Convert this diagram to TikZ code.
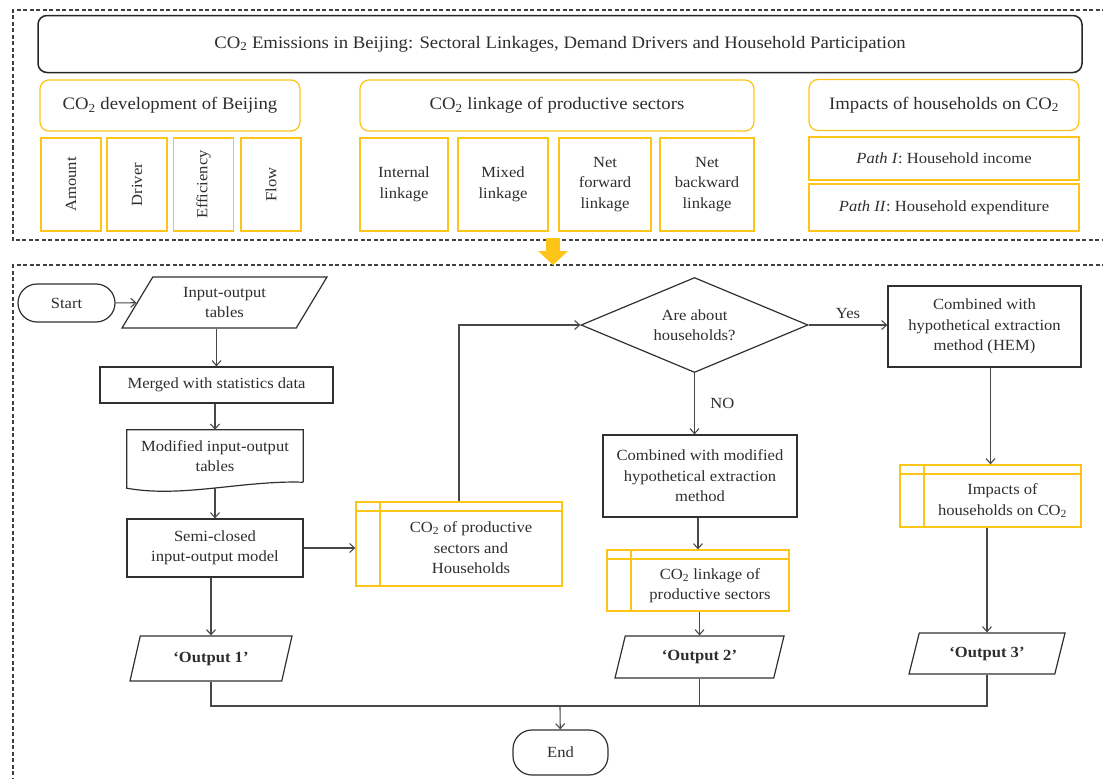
\documentclass[tikz,border=0pt]{standalone}
\usepackage{fontspec}
\setmainfont{Liberation Serif}[FakeStretch=1.07]
\usetikzlibrary{shapes.geometric,arrows.meta}

\definecolor{hlyellow}{RGB}{255,196,24}
\definecolor{linegray}{RGB}{72,72,72}
\definecolor{boxgray}{RGB}{48,48,48}
\newcommand{\COtwo}{CO\textsubscript{2}}
\newcommand{\storelines}[1]{\hspace*{24pt}\begin{tabular}{@{}c@{}}\noalign{\vskip 10pt}#1\end{tabular}}

\begin{document}
\begin{tikzpicture}[x=1pt,y=-1pt,font=\fontsize{15.5}{20.5}\selectfont,text=black!82,
  >={Straight Barb[length=5pt,width=9pt]}]
% Estilos
\tikzset{
  panel/.style={draw=black!75, line width=1.3pt, dash pattern=on 4pt off 2.5pt},
  titlebox/.style={rectangle, draw=black!85, line width=1.5pt, rounded corners=9pt, minimum width=1044pt, minimum height=57pt, font=\fontsize{17.5}{20}\selectfont},
  groupbox/.style={rectangle, draw=hlyellow, line width=1.3pt, rounded corners=9pt, minimum height=51pt, font=\fontsize{17.5}{20}\selectfont},
  itembox/.style={rectangle, draw=hlyellow, line width=1.3pt, align=center},
  process/.style={rectangle, draw=boxgray, line width=1.2pt, align=center},
  terminal/.style={rectangle, draw=boxgray, line width=1.2pt, rounded corners=19pt},
  ioshape/.style={trapezium, draw=boxgray, line width=1.2pt, trapezium left angle=45, trapezium right angle=135, trapezium stretches body, align=center, inner sep=0pt},
  outshape/.style={trapezium, draw=boxgray, line width=1.2pt, trapezium left angle=53, trapezium right angle=127, trapezium stretches body, inner sep=0pt, font=\fontsize{15.5}{20}\selectfont\bfseries},
  decision/.style={diamond, draw=boxgray, line width=1.2pt, aspect=2.4, inner sep=0pt, align=center},
  docbox/.style={rectangle, align=center, minimum width=176pt, minimum height=52pt},
  storebox/.style={rectangle, draw=hlyellow, line width=1.3pt,
    path picture={
      \draw[hlyellow, line width=1.1pt] ([xshift=24pt]path picture bounding box.north west) -- ([xshift=24pt]path picture bounding box.south west);
      \draw[hlyellow, line width=1.1pt] ([yshift=-9pt]path picture bounding box.north west) -- ([yshift=-9pt]path picture bounding box.north east);}},
  link/.style={draw=linegray, line width=1.1pt}
}

\useasboundingbox (0,0) rectangle (1103,779);

% Molduras tracejadas
\draw[panel] (1106,10) -- (13,10) -- (13,240) -- (1106,240);
\draw[panel] (1106,265) -- (13,265) -- (13,785);
\fill[hlyellow] (546,238) -- (560,238) -- (560,251) -- (568,251) -- (553,265) -- (538,251) -- (546,251) -- cycle;

% Titulo
\node[titlebox] (title) at (560,44) {\COtwo{} Emissions in Beijing: Sectoral Linkages, Demand Drivers and Household Participation};

% Grupos
\node[groupbox, minimum width=260pt] (devgroup) at (170,105.5) {\COtwo{} development of Beijing};
\node[groupbox, minimum width=394pt] (linkgroup) at (557,105.5) {\COtwo{} linkage of productive sectors};
\node[groupbox, minimum width=270pt] (hhgroup) at (944,105) {Impacts of households on \COtwo};

% Itens do primeiro grupo
\node[itembox, rotate=90, minimum width=93pt, minimum height=60pt] (amount) at (71,184.5) {Amount};
\node[itembox, rotate=90, minimum width=93pt, minimum height=60pt] (driver) at (137,184.5) {Driver};
\node[itembox, rotate=90, minimum width=93pt, minimum height=60pt] (efficiency) at (203.5,184.5) {Efficiency};
\node[itembox, rotate=90, minimum width=93pt, minimum height=60pt] (flow) at (271,184.5) {Flow};

% Itens do segundo grupo
\node[itembox, minimum width=88pt, minimum height=93pt] (internal) at (404,184.5) {Internal\\linkage};
\node[itembox, minimum width=90pt, minimum height=93pt] (mixed) at (503,184.5) {Mixed\\linkage};
\node[itembox, minimum width=92pt, minimum height=93pt] (netfwd) at (605,184.5) {Net\\forward\\linkage};
\node[itembox, minimum width=94pt, minimum height=93pt] (netbwd) at (707,184.5) {Net\\backward\\linkage};

% Itens do terceiro grupo
\node[itembox, minimum width=270pt, minimum height=43pt] (pathone) at (944,158.5) {\textit{Path I}: Household income};
\node[itembox, minimum width=270pt, minimum height=47pt] (pathtwo) at (944,207.5) {\textit{Path II}: Household expenditure};

% Fluxograma
\node[terminal, minimum width=97pt, minimum height=38pt] (start) at (66.5,303) {Start};
\node[ioshape, minimum width=205pt, minimum height=51pt] (iotab) at (224.5,302.5) {Input-output\\tables};
\node[process, minimum width=233pt, minimum height=36pt] (merged) at (216.5,385) {Merged with statistics data};
\node[docbox] (modtab) at (215,456) {Modified input-output\\tables};
\draw[draw=boxgray, line width=1.2pt] (modtab.south east) -- (modtab.north east) -- (modtab.north west) -- ([yshift=-6pt]modtab.south west) .. controls +(55,10) and +(-60,-2) .. (modtab.south east);
\node[process, minimum width=176pt, minimum height=58pt] (semi) at (215,548) {Semi-closed\\input-output model};
\node[outshape, minimum width=162pt, minimum height=45pt] (outone) at (211,658.5) {`Output 1'};

\node[storebox, minimum width=206pt, minimum height=84pt] (co2prod) at (459,544) {\storelines{\COtwo{} of productive\\sectors and\\Households}};

\node[decision, minimum width=227pt, minimum height=95pt] (about) at (694.5,325) {Are about\\households?};
\node[process, minimum width=194pt, minimum height=82pt] (modhem) at (700,476) {Combined with modified\\hypothetical extraction\\method};
\node[storebox, minimum width=182pt, minimum height=61pt] (linkage) at (698,580.5) {\storelines{\COtwo{} linkage of\\productive sectors}};
\node[outshape, minimum width=169pt, minimum height=42pt] (outtwo) at (699.5,657) {`Output 2'};

\node[process, minimum width=193pt, minimum height=81pt] (hem) at (984.5,326.5) {Combined with\\hypothetical extraction\\method (HEM)};
\node[storebox, minimum width=181pt, minimum height=62pt] (impacts) at (990.5,496) {\storelines{Impacts of\\households on \COtwo}};
\node[outshape, minimum width=156pt, minimum height=41pt] (outthree) at (987,653.5) {`Output 3'};

\node[terminal, minimum width=95pt, minimum height=45pt] (end) at (560.5,752.5) {End};
\coordinate (bus) at (560,706);

% Ligacoes
\draw[link,->] (start) -- (iotab);
\draw[link,->] (iotab.south -| merged.north) -- (merged.north);
\draw[link,->] (merged.south -| modtab.north) -- (modtab.north);
\draw[link,->] ([yshift=-6pt]modtab.south) -- (semi.north -| modtab.south);
\draw[link,->] (semi.east) -- (semi.east -| co2prod.west);
\draw[link,->] (semi.south -| outone.north) -- (outone.north);
\draw[link,->] (co2prod.north) |- (about.west);
\draw[link,->] (about.east) -- node[above=2pt] {Yes} (about.east -| hem.west);
\draw[link,->] (about.south) -- node[right=12pt] {NO} (about.south |- modhem.north);
\draw[link,->] (modhem.south -| linkage.north) -- (linkage.north);
\draw[link,->] (linkage.south -| outtwo.north) -- (outtwo.north);
\draw[link,->] (hem.south -| impacts.north) -- (impacts.north);
\draw[link,->] (impacts.south -| outthree.north) -- (outthree.north);
\draw[link] (outone.south) |- (bus) -| (outthree.south);
\draw[link] (outtwo.south) -- (outtwo.south |- bus);
\draw[link,->] (bus) -- (end);

\end{tikzpicture}
\end{document}
